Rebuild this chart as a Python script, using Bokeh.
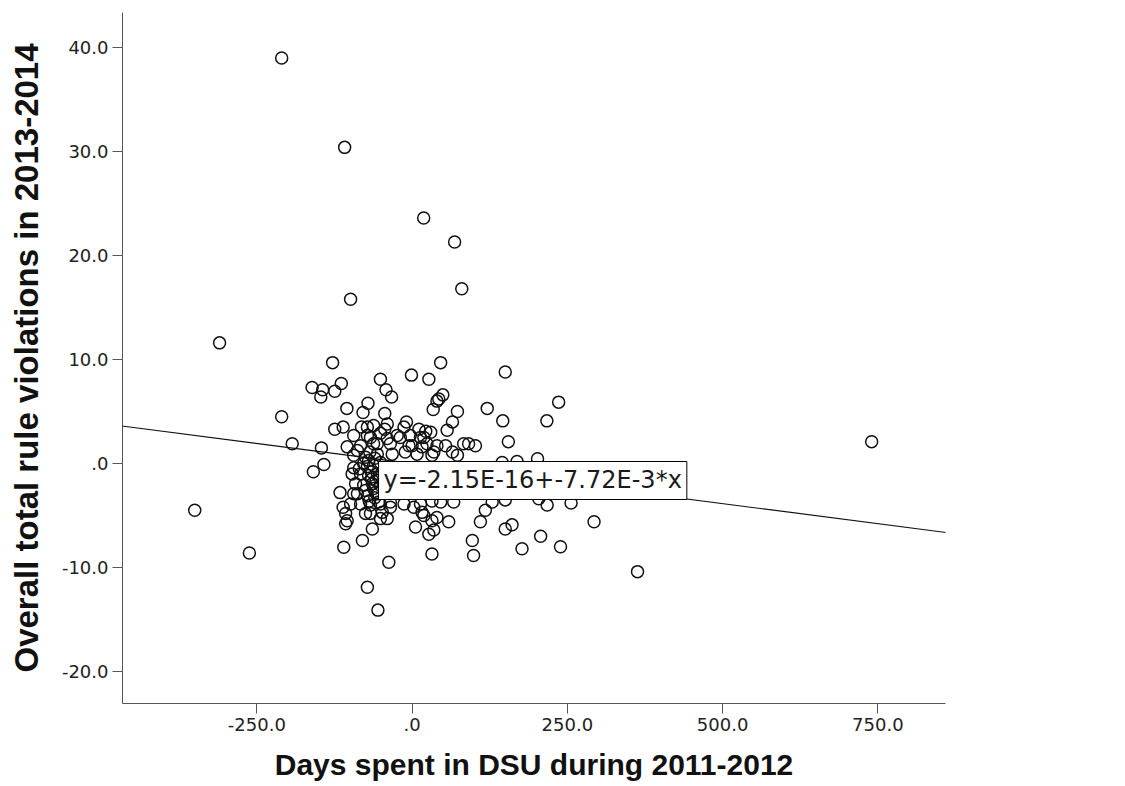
from bokeh.plotting import figure
from bokeh.models import Range1d, FixedTicker, Label, Slope
from bokeh.embed import file_html
from bokeh.resources import INLINE

# Days spent in DSU during 2011-2012 (centred) and overall rule violations 2013-2014 (centred)
days = [
    -210, -108.6, 18.7, 68.5, 80, -99, -310, -128, 46, 150, -1, -51, 27,
    -350, -262, 740, 363, -55, -72, 293, 256, 239, 207, 236, 217, -210, -193, -159, -142,
    -161, -144, -147, -124.5, -114, -42, -33, -105, -71, -79, -44, 40, 34,
    -124.5, -111, -81.5, -72, -44, -9, 22, -146, -88, -67, -56, -40, -19, -5, 13.5, 24, 40,
    121, 49.5, 43, 73, 65, 56.5, 146, 155, 54, 65, 83, 91, 102, 202, 30, 32, 145, 169,
    -116, -94, -111, -107, -104.5, -107, -110, -80, -64, -67, -51, -40, -35, -37.5,
    5.5, 16, 32, 35, 27, 32, -13, -51, -96.5, 13.5, 40,
    46, 67, 59, 97, 99, 110, 118, 129, 150, 150, 161, 177, 204, 217.5, 32,
    35, 73,
    -62, -40, -13, 11, 19, -94, -72, -51, -24, -3, -104.5, -83, -62, -35, 0, 16,
    -94, -75, -56, -32, -11, 8, -94, -78, -62, -51, -83, -70, -56, -91, -78, -64, -51,
    -88, -72, -59, -99, -83, -67, -54, -75, -48, -35, 2.7, 19,
    -85, -70, -65, -60, -75, -68,
    -66, -58, -72, -62, -55, -69, -60, -53,
]
violations = [
    39.0, 30.4, 23.6, 21.3, 16.8, 15.8, 11.6, 9.7, 9.7, 8.8, 8.5, 8.1, 8.1,
    -4.5, -8.6, 2.1, -10.4, -14.1, -11.9, -5.6, -3.8, -8.0, -7.0, 5.9, 4.1, 4.5, 1.9, -0.8, -0.1,
    7.3, 7.1, 6.4, 6.95, 7.7, 7.1, 6.4, 5.3, 5.8, 4.9, 4.8, 6.0, 5.2,
    3.3, 3.5, 3.5, 3.5, 3.3, 4.0, 3.1, 1.5, 1.25, 2.5, 1.9, 2.4, 2.5, 1.7, 2.5, 1.9, 1.7,
    5.3, 6.6, 6.2, 5.0, 4.0, 3.2, 4.1, 2.1, 1.7, 1.1, 1.9, 1.9, 1.7, 0.45, 3.0, 0.8, 0.1, 0.2,
    -2.8, -2.9, -4.2, -4.8, -5.5, -5.8, -8.05, -7.4, -6.3, -4.8, -5.3, -5.3, -4.2, -9.5,
    -6.1, -4.7, -5.5, -6.4, -6.8, -8.7, -3.9, -3.9, -1.0, -3.9, -5.2,
    -3.7, -3.7, -5.6, -7.4, -8.85, -5.6, -4.5, -3.7, -3.5, -6.3, -5.9, -8.2, -3.4, -4.0, -3.6,
    1.1, 0.8,
    3.65, 3.8, 3.5, 3.3, 2.5, 2.7, 2.7, 2.9, 2.7, 2.7, 1.6, 1.7, 1.9, 1.9, 1.7, 1.6,
    0.8, 0.6, 0.9, 0.9, 1.1, 0.9, -0.4, 0.0, -0.2, 0.1, -1.0, -1.15, -1.0, -1.95, -2.1, -1.95, -2.1,
    -2.9, -3.1, -2.8, -3.9, -3.9, -4.0, -3.7, -4.8, -4.7, -3.7, -4.2, -5.0,
    -0.5, 0.3, -1.5, -3.3, -2.6, 1.1,
    -0.8, -1.6, -0.3, -2.4, -2.9, -3.6, 0.5, -1.3,
]

x_ticks = [-250, 0, 250, 500, 750]
x_tick_labels = ["-250.0", ".0", "250.0", "500.0", "750.0"]
y_ticks = [-20, -10, 0, 10, 20, 30, 40]
y_tick_labels = ["-20.0", "-10.0", ".0", "10.0", "20.0", "30.0", "40.0"]

x_title = "Days spent in DSU during 2011-2012"
y_title = "Overall total rule violations in 2013-2014"

fit_intercept = -2.15e-16
fit_slope = -7.72e-3
fit_text = "y=-2.15E-16+-7.72E-3*x"
r2_text = "R\u00b2 Linear = 0.021"

p = figure(width=1125, height=786, output_backend="svg", toolbar_location=None,
           x_range=Range1d(-466.3, 858.9), y_range=Range1d(-23.08, 43.37),
           min_border_left=122, min_border_right=180, min_border_top=12,
           min_border_bottom=83)
p.grid.visible = False
p.outline_line_color = None
p.background_fill_color = "white"
p.border_fill_color = "white"

for ax, ticks, labels in ((p.xaxis[0], x_ticks, x_tick_labels), (p.yaxis[0], y_ticks, y_tick_labels)):
    ax.ticker = FixedTicker(ticks=ticks)
    ax.major_label_overrides = dict(zip(ticks, labels))
    ax.minor_tick_line_color = None
    ax.axis_line_color = "#555555"
    ax.major_tick_line_color = "#555555"
    ax.major_tick_in = 0
    ax.major_tick_out = 10
    ax.major_label_text_font = "DejaVu Sans"
    ax.major_label_text_font_size = "18px"
    ax.major_label_text_color = "#222222"
    ax.major_label_standoff = 4
    ax.axis_label_text_font = "Liberation Sans"
    ax.axis_label_text_font_style = "bold"
    ax.axis_label_text_color = "#111111"

p.xaxis.axis_label = x_title
p.xaxis.axis_label_text_font_size = "30px"
p.xaxis.axis_label_standoff = 14
p.yaxis.axis_label = y_title
p.yaxis.axis_label_text_font_size = "33px"
p.yaxis.axis_label_standoff = 14

p.add_layout(Slope(gradient=fit_slope, y_intercept=fit_intercept,
                   line_color="#111111", line_width=1.2))

p.scatter(days, violations, marker="circle", size=12, fill_color=None,
          line_color="#111111", line_width=1.5)

p.add_layout(Label(x=-54, y=0, text=fit_text, text_align="left", text_baseline="top",
                   x_offset=0, y_offset=2, padding=5,
                   text_font="DejaVu Sans", text_font_size="24px", text_color="#1a1a1a",
                   background_fill_color="white", border_line_color="black",
                   border_line_width=1))

p.add_layout(Label(x=858.9, y=41.8, text=r2_text, text_align="left", text_baseline="middle",
                   text_font="DejaVu Sans", text_font_size="16px", text_color="#222222"))

open("out.html", "w").write(file_html(p, INLINE))
